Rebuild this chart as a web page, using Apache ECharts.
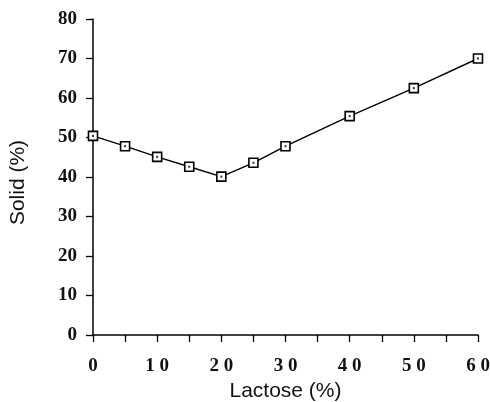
<!DOCTYPE html>
<html>
<head>
<meta charset="utf-8">
<script src="https://cdn.jsdelivr.net/npm/echarts@6/dist/echarts.min.js"></script>
<style>html,body{margin:0;padding:0;background:#fff}#c{width:490px;height:402px}</style>
</head>
<body>
<div id="c"></div>
<script>
const lactose = [0, 5, 10, 15, 20, 25, 30, 40, 50, 60];
const solid = [50.4, 47.8, 45.1, 42.6, 40.1, 43.6, 47.8, 55.4, 62.5, 70.0];
const xTickLabels = {0: '0', 10: '1 0', 20: '2 0', 30: '3 0', 40: '4 0', 50: '5 0', 60: '6 0'};
const yTickLabels = ['0', '10', '20', '30', '40', '50', '60', '70', '80'];
const xName = 'Lactose (%)';
const yName = 'Solid (%)';

const points = lactose.map((x, i) => [x, solid[i]]);
const serif = '"Liberation Serif", "DejaVu Serif", serif';
const sans = '"Liberation Sans", Arial, sans-serif';

const chart = echarts.init(document.getElementById('c'), null, {renderer: 'canvas'});
chart.setOption({
  animation: false,
  backgroundColor: '#fff',
  grid: {left: 93, right: 12, top: 19, bottom: 67, containLabel: false, outerBoundsMode: 'none'},
  xAxis: {
    type: 'value', min: 0, max: 60, interval: 5,
    name: xName, nameLocation: 'middle', nameGap: 39,
    nameTextStyle: {fontFamily: sans, fontSize: 21, color: '#111'},
    axisLine: {show: true, onZero: false, lineStyle: {color: '#000', width: 1.5}},
    axisTick: {show: true, inside: false, length: 7, lineStyle: {color: '#000', width: 1.3}},
    axisLabel: {
      margin: 22, fontFamily: serif, fontWeight: 'bold', fontSize: 19, color: '#111',
      formatter: v => (xTickLabels[v] !== undefined ? xTickLabels[v] : '')
    },
    splitLine: {show: false}
  },
  yAxis: {
    type: 'value', min: 0, max: 80, interval: 10,
    name: yName, nameLocation: 'middle', nameGap: 64, nameRotate: 90,
    nameTextStyle: {fontFamily: sans, fontSize: 21, color: '#111', padding: [0, 11, 0, 0]},
    axisLine: {show: true, onZero: false, lineStyle: {color: '#000', width: 1.5}},
    axisTick: {show: true, inside: false, length: 7, lineStyle: {color: '#000', width: 1.3}},
    axisLabel: {
      margin: 16, fontFamily: serif, fontWeight: 'bold', fontSize: 19, color: '#111',
      formatter: v => yTickLabels[Math.round(v / 10)]
    },
    splitLine: {show: false}
  },
  series: [
    {
      type: 'line', data: points,
      symbol: 'rect', symbolSize: 9,
      lineStyle: {color: '#000', width: 1.4},
      itemStyle: {color: '#fff', borderColor: '#000', borderWidth: 1.6},
      z: 2
    },
    {
      type: 'scatter', data: points,
      symbol: 'rect', symbolSize: 2,
      itemStyle: {color: '#000'},
      z: 3, silent: true
    }
  ]
});
</script>
</body>
</html>
